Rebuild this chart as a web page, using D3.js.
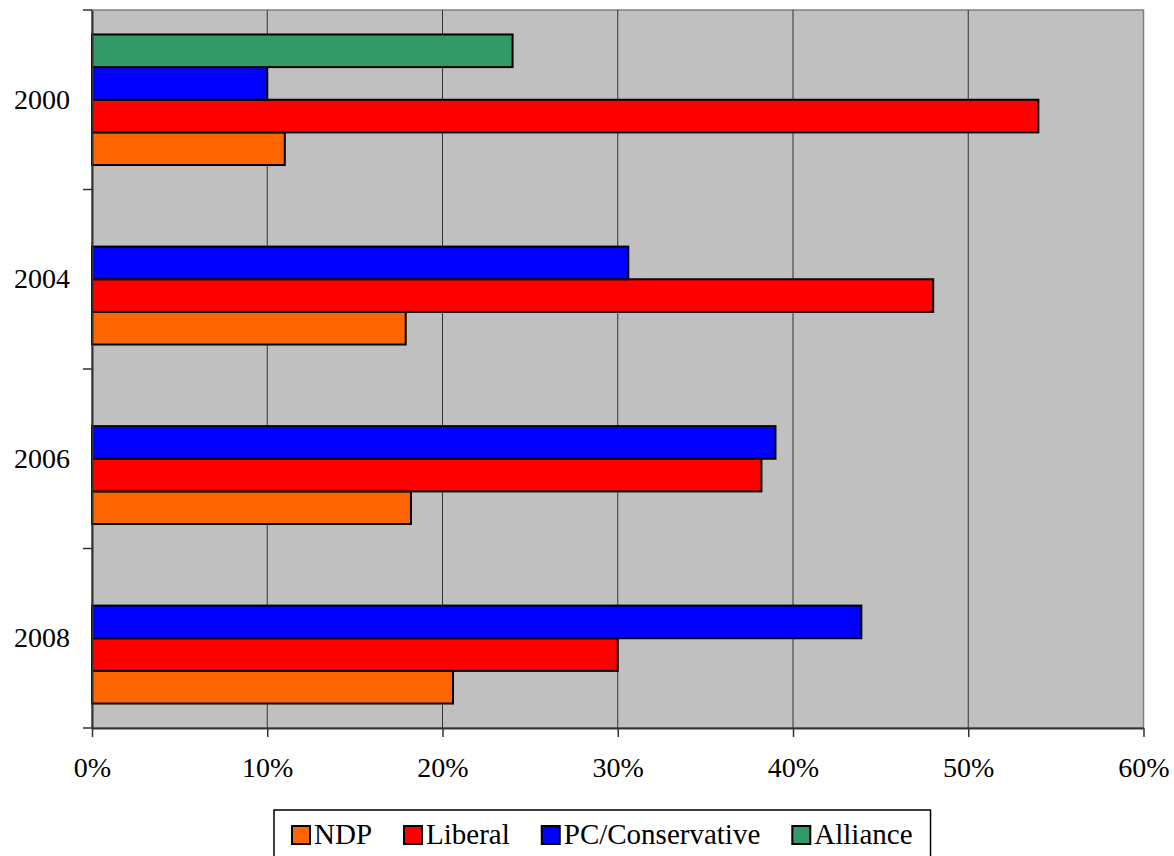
<!DOCTYPE html>
<html>
<head>
<meta charset="utf-8">
<title>Vote share by party</title>
<script src="https://cdn.jsdelivr.net/npm/d3@7"></script>
<style>
  body { margin: 0; background: #fff; }
  svg text { font-family: "Liberation Serif", "Times New Roman", serif; fill: #000; }
  .grid line { stroke: #333; stroke-width: 1; }
  .bar { stroke: #000; stroke-width: 2; }
</style>
</head>
<body>
<svg id="chart" width="1174" height="856"></svg>
<script>
// election years, top to bottom
var years = ["2000", "2004", "2006", "2008"];
// parties, in legend order
var parties = ["NDP", "Liberal", "PC/Conservative", "Alliance"];
var colors = ["#ff6600", "#ff0000", "#0000ff", "#339966"];

// share of vote per year (null = party did not run)
var ndp      = [0.110, 0.179, 0.182, 0.206];
var liberal  = [0.540, 0.480, 0.382, 0.300];
var pc       = [0.100, 0.306, 0.390, 0.439];
var alliance = [0.240, null, null, null];

var xTicks = [0, 0.1, 0.2, 0.3, 0.4, 0.5, 0.6];

var series = [ndp, liberal, pc, alliance];

var svg = d3.select("#chart");
var plotL = 92, plotR = 1143.5, plotT = 10, plotB = 728;

var x = d3.scaleLinear().domain([0, 0.6]).range([plotL, plotR]);
var y = d3.scaleBand().domain(years).range([plotT, plotB]).padding(0);
// bars inside a year: Alliance on top, NDP at the bottom; gap = 150% of bar
var yInner = d3.scaleBand().domain(parties.slice().reverse())
  .range([0, y.bandwidth()]).paddingInner(0).paddingOuter(0.75);

// plot area
svg.append("rect")
  .attr("x", plotL).attr("y", plotT)
  .attr("width", plotR - plotL).attr("height", plotB - plotT)
  .attr("fill", "#c0c0c0")
  .attr("stroke", "#808080").attr("stroke-width", 1.5);

// vertical gridlines
svg.append("g").attr("class", "grid")
  .selectAll("line")
  .data(xTicks.slice(1, -1))
  .enter().append("line")
  .attr("x1", function(d) { return x(d); })
  .attr("x2", function(d) { return x(d); })
  .attr("y1", plotT).attr("y2", plotB);

// bars
var rows = [];
years.forEach(function(yr, i) {
  parties.forEach(function(p, j) {
    if (series[j][i] != null) rows.push({ year: yr, party: p, value: series[j][i], color: colors[j] });
  });
});

svg.append("g").selectAll("rect")
  .data(rows)
  .enter().append("rect")
  .attr("class", "bar")
  .attr("x", x(0))
  .attr("y", function(d) { return y(d.year) + yInner(d.party); })
  .attr("width", function(d) { return x(d.value) - x(0); })
  .attr("height", yInner.bandwidth())
  .attr("fill", function(d) { return d.color; });

// x axis
var xAxis = svg.append("g")
  .attr("transform", "translate(0," + plotB + ")")
  .call(d3.axisBottom(x).tickValues(xTicks).tickFormat(d3.format(".0%"))
    .tickSize(9).tickPadding(20).tickSizeOuter(0));
xAxis.select(".domain").attr("stroke", "#333").attr("stroke-width", 2);
xAxis.selectAll(".tick line").attr("stroke", "#333").attr("stroke-width", 1.5);
xAxis.selectAll("text").style("font-size", "28px");

// y axis: labels centred on each year, ticks on the boundaries
var yAxis = svg.append("g")
  .attr("transform", "translate(" + plotL + ",0)")
  .call(d3.axisLeft(y).tickSize(0).tickPadding(22));
yAxis.select(".domain").attr("stroke", "#333").attr("stroke-width", 2);
yAxis.selectAll("text").style("font-size", "28px");

var bounds = years.map(function(d) { return y(d); }).concat([plotB]);
svg.append("g").selectAll("line")
  .data(bounds)
  .enter().append("line")
  .attr("x1", plotL - 9).attr("x2", plotL)
  .attr("y1", function(d) { return d; }).attr("y2", function(d) { return d; })
  .attr("stroke", "#333").attr("stroke-width", 1.5);

// legend
var lx = 292, ly = 844;
var legend = svg.append("g");
var legendBox = legend.append("rect")
  .attr("fill", "#fff").attr("stroke", "#000").attr("stroke-width", 1.5);
var items = legend.selectAll("g.item")
  .data(parties)
  .enter().append("g").attr("class", "item");
items.append("rect")
  .attr("width", 18).attr("height", 18)
  .attr("y", -18)
  .attr("fill", function(d, i) { return colors[i]; })
  .attr("stroke", "#000").attr("stroke-width", 2);
items.append("text")
  .attr("x", 22)
  .style("font-size", "29px")
  .text(function(d) { return d; });

var pos = lx;
items.each(function() {
  var w = 22 + this.querySelector("text").getComputedTextLength();
  d3.select(this).attr("transform", "translate(" + pos + "," + ly + ")");
  pos += w + 32;
});
legendBox.attr("x", lx - 18).attr("y", 810)
  .attr("width", pos - 32 - lx + 36).attr("height", 60);
</script>
</body>
</html>
